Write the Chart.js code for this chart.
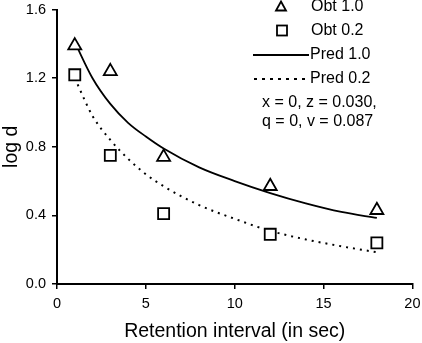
<!DOCTYPE html>
<html>
<head>
<meta charset="utf-8">
<script src="https://cdn.jsdelivr.net/npm/chart.js@4"></script>
<style>
  html,body{margin:0;padding:0;background:#fff;}
  #wrap{width:422px;height:343px;position:relative;}
</style>
</head>
<body>
<div id="wrap"><canvas id="c" width="422" height="343"></canvas></div>
<script>
(function(){
  'use strict';

  // observed data
  const intervals = [1, 3, 6, 12, 18];
  const obt10 = [1.39, 1.24, 0.74, 0.57, 0.43];
  const obt02 = [1.22, 0.75, 0.41, 0.29, 0.24];

  // predicted curves
  const predX   = [1, 2, 3, 4, 5, 6, 8, 10, 12, 14, 16, 18];
  const pred10  = [1.41, 1.20, 1.05, 0.94, 0.86, 0.79, 0.68, 0.60, 0.53, 0.47, 0.42, 0.385];
  const pred02  = [1.20, 0.98, 0.84, 0.73, 0.64, 0.57, 0.46, 0.38, 0.31, 0.26, 0.22, 0.185];

  const xTicks = [0, 5, 10, 15, 20];
  const yTicks = [0.0, 0.4, 0.8, 1.2, 1.6];
  const paramLines = ['x = 0, z = 0.030,', 'q = 0, v = 0.087'];

  const FONT = '"Liberation Sans", Arial, sans-serif';
  const pts = (xs, ys) => xs.map((x,i)=>({x, y:ys[i]}));

  // legend + parameter text drawn on the canvas
  const legendPlugin = {
    id:'legendBox',
    afterDraw(chart){
      const ctx = chart.ctx;
      ctx.save();
      ctx.fillStyle = '#000';
      ctx.strokeStyle = '#000';
      ctx.font = '16px ' + FONT;
      ctx.textBaseline = 'middle';
      ctx.textAlign = 'left';
      // triangle
      ctx.lineWidth = 1.8;
      ctx.beginPath();
      ctx.moveTo(281, 1.5); ctx.lineTo(286, 10.5); ctx.lineTo(276, 10.5); ctx.closePath();
      ctx.stroke();
      ctx.fillText('Obt 1.0', 311, 7);
      // square
      ctx.strokeRect(277, 25.5, 10, 10);
      ctx.fillText('Obt 0.2', 311, 31);
      // solid
      ctx.beginPath(); ctx.moveTo(253, 55); ctx.lineTo(309, 55); ctx.stroke();
      ctx.fillText('Pred 1.0', 310, 55);
      // dotted
      ctx.setLineDash([3,5]);
      ctx.beginPath(); ctx.moveTo(254, 79); ctx.lineTo(309, 79); ctx.stroke();
      ctx.setLineDash([]);
      ctx.fillText('Pred 0.2', 310, 79);
      ctx.fillText(paramLines[0], 262, 103);
      ctx.fillText(paramLines[1], 262, 122);
      ctx.restore();
    }
  };

  new Chart(document.getElementById('c'), {
    type:'scatter',
    data:{
      datasets:[
        { label:'Pred 1.0', data:pts(predX, pred10), showLine:true, pointRadius:0,
          borderColor:'#000', borderWidth:1.8, cubicInterpolationMode:'monotone', order:3 },
        { label:'Pred 0.2', data:pts(predX, pred02), showLine:true, pointRadius:0,
          borderColor:'#000', borderWidth:2, borderDash:[2,5], cubicInterpolationMode:'monotone', order:4 },
        { label:'Obt 1.0', data:pts(intervals, obt10), pointStyle:'triangle', pointRadius:7.5,
          borderColor:'#000', borderWidth:1.8, backgroundColor:'#fff', order:1 },
        { label:'Obt 0.2', data:pts(intervals, obt02), pointStyle:'rect', pointRadius:7.8,
          borderColor:'#000', borderWidth:1.8, backgroundColor:'#fff', order:2 }
      ]
    },
    options:{
      responsive:false,
      animation:false,
      layout:{ padding:{ top:4, right:6, left:0, bottom:0 } },
      plugins:{ legend:{display:false}, tooltip:{enabled:false} },
      scales:{
        x:{
          type:'linear', min:0, max:20,
          afterBuildTicks: s => { s.ticks = xTicks.map(v=>({value:v})); },
          afterFit: s => { s.height = 59; s.paddingLeft = 0; s.paddingRight = 0; },
          grid:{ drawOnChartArea:false, drawTicks:true, tickLength:5, color:'#000', lineWidth:1.5 },
          border:{ color:'#000', width:2 },
          ticks:{ color:'#000', font:{ family:FONT, size:14.5 }, padding:6, maxRotation:0 },
          title:{ display:true, text:'Retention interval (in sec)', color:'#000',
                  font:{ family:FONT, size:19.5 }, padding:{ top:2, bottom:0 } }
        },
        y:{
          type:'linear', min:0, max:1.6,
          afterBuildTicks: s => { s.ticks = yTicks.map(v=>({value:v})); },
          afterFit: s => { s.width = 57; s.paddingTop = 0; s.paddingBottom = 0; },
          grid:{ drawOnChartArea:false, drawTicks:true, tickLength:5, color:'#000', lineWidth:1.5 },
          border:{ color:'#000', width:2 },
          ticks:{ color:'#000', font:{ family:FONT, size:14.5 }, padding:6,
                  callback: v => Number(v).toFixed(1) },
          title:{ display:true, text:'log d', color:'#000',
                  font:{ family:FONT, size:19.5 }, padding:{ top:0, bottom:0 } }
        }
      }
    },
    plugins:[legendPlugin]
  });
})();
</script>
</body>
</html>
